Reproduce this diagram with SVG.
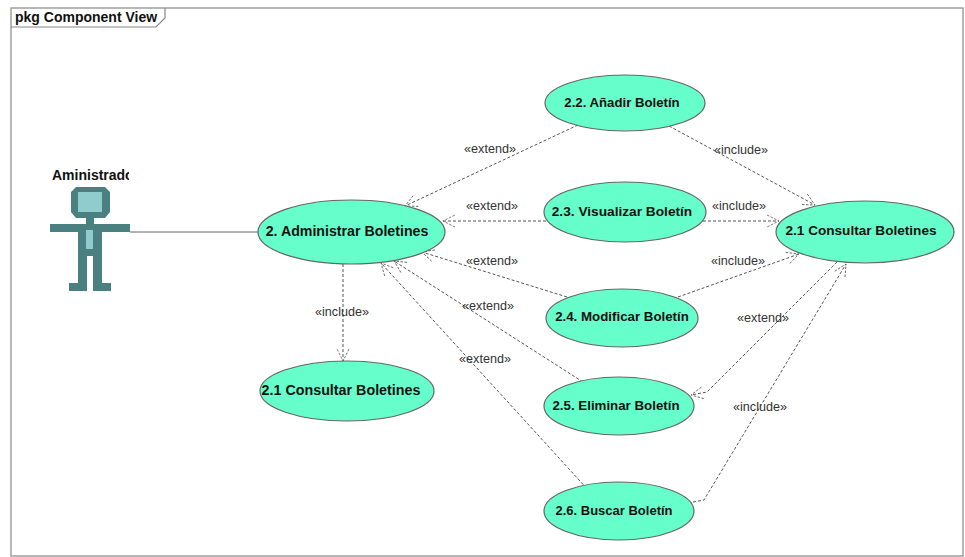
<svg xmlns="http://www.w3.org/2000/svg" width="965" height="557" viewBox="0 0 965 557">
<defs>
<marker id="arr" viewBox="-14 -8 16 16" refX="0" refY="0" markerWidth="16" markerHeight="16" markerUnits="userSpaceOnUse" orient="auto"><path d="M-12,-6 L0,0 L-12,6" fill="none" stroke="#555" stroke-width="0.8" stroke-dasharray="2.5 1.5"/></marker>
<clipPath id="actor-clip"><rect x="40" y="160" width="89" height="26"/></clipPath>
</defs>
<style>
text{font-family:"Liberation Sans",Arial,sans-serif;fill:#111}
.uc ellipse{fill:#66ffcc;stroke:#666;stroke-width:1.2}
.uc text{font-weight:bold;text-anchor:middle}
.c path{fill:none;stroke:#555;stroke-width:1;stroke-dasharray:3 2;marker-end:url(#arr)}
.c .assoc{stroke:#666;stroke-dasharray:none;marker-end:none}
.lab{font-size:12.6px;text-anchor:middle;fill:#333}
.a{fill:#4a8080}
</style>
<rect width="965" height="557" fill="#fff"/>
<g id="frame">
<rect x="11" y="8" width="952" height="548" fill="none" stroke="#888" stroke-width="1.2"/>
<path d="M11,27 H156 L165,18 V8" fill="none" stroke="#888" stroke-width="1.2"/>
<text x="15" y="22" font-size="14" font-weight="bold" fill="#222">pkg Component View</text>
</g>
<g id="connectors" class="c">
<path class="assoc" d="M130,232 H259"/>
<path d="M578,125 L405,206"/>
<path d="M546,221 L443,221"/>
<path d="M567,297 L422,252"/>
<path d="M583,382 L394,261"/>
<path d="M590,492 L381,263"/>
<path d="M343,264 V361"/>
<path d="M669,126 L815,205"/>
<path d="M703,221 L779,221"/>
<path d="M678,297 L799,254"/>
<path d="M837,262 L707,392 L691,395"/>
<path d="M693,502 L704,500 L846,264"/>
</g>
<g id="labels">
<text class="lab" x="490" y="153">«extend»</text>
<text class="lab" x="492" y="210">«extend»</text>
<text class="lab" x="492" y="265">«extend»</text>
<text class="lab" x="488" y="310">«extend»</text>
<text class="lab" x="485" y="363">«extend»</text>
<text class="lab" x="342" y="316">«include»</text>
<text class="lab" x="741" y="154">«include»</text>
<text class="lab" x="739" y="210">«include»</text>
<text class="lab" x="738" y="265">«include»</text>
<text class="lab" x="763" y="322">«extend»</text>
<text class="lab" x="760" y="411">«include»</text>
</g>
<g id="actor">
<text x="52" y="180" font-size="14" font-weight="bold" clip-path="url(#actor-clip)">Aministrado</text>
<path class="a" d="M76,187 H105 L110,192 V212 L105,218 H94 V224 H130 V232 H102 V283 H111 V291 H93 V256 H87 V291 H69 V283 H78 V232 H50 V224 H86 V218 H76 L71,212 V192 Z"/>
<rect x="78" y="192" width="24" height="20" fill="#90cccc"/>
<rect x="86" y="230" width="7" height="19" fill="#90cccc"/>
</g>
<g id="uc-admin" class="uc"><ellipse cx="351.500" cy="232" rx="93.500" ry="32"/><text x="347" y="236" font-size="14.200">2. Administrar Boletines</text></g>
<g id="uc-consultar-1" class="uc"><ellipse cx="347" cy="391" rx="87" ry="30"/><text x="341" y="395" font-size="14.300">2.1 Consultar Boletines</text></g>
<g id="uc-anadir" class="uc"><ellipse cx="625" cy="103" rx="80" ry="28"/><text x="622" y="107" font-size="13.200">2.2. Añadir Boletín</text></g>
<g id="uc-visualizar" class="uc"><ellipse cx="625" cy="212" rx="81" ry="30"/><text x="622" y="216" font-size="13.700">2.3. Visualizar Boletín</text></g>
<g id="uc-modificar" class="uc"><ellipse cx="622" cy="318" rx="76" ry="29"/><text x="622" y="321" font-size="13.300">2.4. Modificar Boletín</text></g>
<g id="uc-eliminar" class="uc"><ellipse cx="619" cy="406" rx="75" ry="29"/><text x="616" y="410" font-size="13.300">2.5. Eliminar Boletín</text></g>
<g id="uc-buscar" class="uc"><ellipse cx="619" cy="511" rx="75" ry="29"/><text x="614" y="515" font-size="13">2.6. Buscar Boletín</text></g>
<g id="uc-consultar-2" class="uc"><ellipse cx="865" cy="232" rx="89" ry="31"/><text x="861" y="235" font-size="13.600">2.1 Consultar Boletines</text></g>
</svg>
